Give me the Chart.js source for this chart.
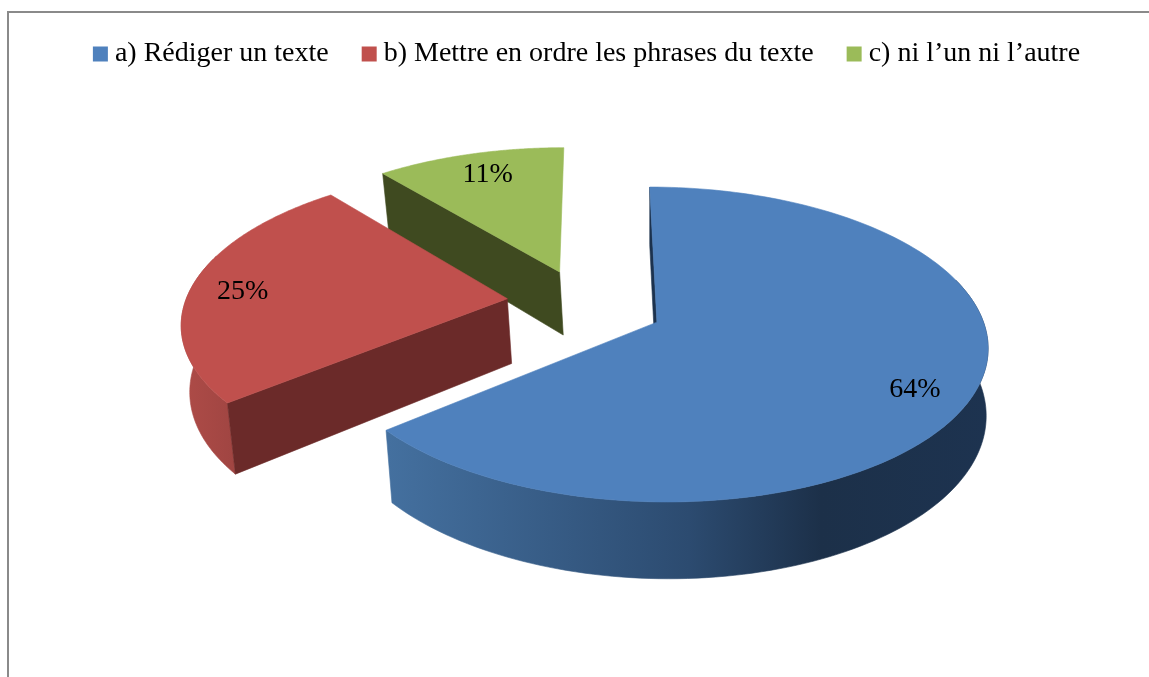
<!DOCTYPE html>
<html><head><meta charset="utf-8">
<style>html,body{margin:0;padding:0;background:#fff;overflow:hidden}canvas{display:block}</style>
<script src="https://cdn.jsdelivr.net/npm/chart.js@4/dist/chart.umd.min.js"></script>
</head><body><canvas id="c" width="1149" height="677"></canvas>
<script>
const categories = ["a) Rédiger un texte", "b) Mettre en ordre les phrases du texte", "c) ni l’un ni l’autre"];
const values = [64, 25, 11];
const topColors = ["#4f81bd", "#c0504d", "#9bbb59"];
const edgeColors = ["#1c324e", "#6b2a29", "#3f4a20"];
const FONT = '"Liberation Serif", serif';

// 3D view used to project the library's arc elements
const view = {vx:595, vy:307, cx:-11, R:322, Ry:150, p:0.14, depth:65, baseX:840, baseShrink:0.987};
const sliceLift = [0, -5, -3];
const sliceShift = [4, -2, 0];
const wallShrink = [false, true, true];
const labelRadius = [0.82, 0.84, 0.78];
const labelDrop = [11, 5, -3];
const drawOrder = [2, 1, 0];

function project(i, el, r, a, z, noShrink){
  const mid = (el.startAngle + el.endAngle) / 2;
  const d = el.options.offset / el.outerRadius;
  const u = d * Math.cos(mid) + r * Math.cos(a);
  const v = d * Math.sin(mid) + r * Math.sin(a);
  const s = 1 / (1 - view.p * v);
  let x = view.vx + sliceShift[i] + (view.cx + view.R * u) * s;
  let y = view.vy + sliceLift[i] + view.Ry * v * s;
  if (z) {
    if (!noShrink) x = view.baseX + (x - view.baseX) * view.baseShrink;
    y += view.depth * s;
  }
  return [x, y];
}
function poly(ctx, pts, fill){
  ctx.beginPath();
  pts.forEach((p, k) => k ? ctx.lineTo(p[0], p[1]) : ctx.moveTo(p[0], p[1]));
  ctx.closePath();
  ctx.fillStyle = fill; ctx.fill();
  ctx.strokeStyle = fill; ctx.lineWidth = 0.6; ctx.stroke();
}
function arcPts(i, el, z, from, to, frontOnly){
  const n = 160, out = [];
  for (let k = 0; k <= n; k++) {
    const a = from + (to - from) * k / n;
    if (frontOnly && Math.sin(a) < -0.3) continue;
    out.push(project(i, el, 1, a, z));
  }
  return out;
}
function rimFill(ctx, i){
  if (i === 0) {
    const g = ctx.createLinearGradient(388, 0, 990, 0);
    g.addColorStop(0, "#44709f"); g.addColorStop(0.5, "#2c4b70");
    g.addColorStop(0.72, "#1c3049"); g.addColorStop(1, "#1d3350");
    return g;
  }
  const g = ctx.createLinearGradient(186, 0, 235, 0);
  g.addColorStop(0, "#ad4b47"); g.addColorStop(1, "#a04542");
  return g;
}
const pie3d = {
  id: "pie3d",
  beforeDraw(chart){
    const ctx = chart.ctx;
    ctx.save();
    ctx.fillStyle = "#fff"; ctx.fillRect(0, 0, chart.width, chart.height);
    ctx.fillStyle = "#8a8a8a";
    ctx.fillRect(7, 11, chart.width - 7, 2);
    ctx.fillRect(7, 11, 2, chart.height - 11);
    ctx.restore();
  },
  beforeDatasetDraw(chart){
    const ctx = chart.ctx, arcs = chart.getDatasetMeta(0).data;
    const total = values.reduce((a, b) => a + b, 0);
    ctx.save();
    drawOrder.forEach(i => {
      const el = arcs[i], a0 = el.startAngle, a1 = el.endAngle;
      const plain = !wallShrink[i];
      const apexT = project(i, el, 0, a0, false), apexB = project(i, el, 0, a0, true, plain);
      const s0T = project(i, el, 1, a0, false), s0B = project(i, el, 1, a0, true, plain);
      const rimTop = arcPts(i, el, false, a0, a1, true), rimBot = arcPts(i, el, true, a0, a1, true);
      if (rimTop.length) poly(ctx, rimTop.concat(rimBot.slice().reverse()), rimFill(ctx, i));
      poly(ctx, [apexT, s0T, s0B, apexB], edgeColors[i]);
      poly(ctx, [apexT].concat(arcPts(i, el, false, a0, a1, false)), topColors[i]);
    });
    ctx.fillStyle = "#000";
    ctx.font = "28px " + FONT;
    ctx.textAlign = "center"; ctx.textBaseline = "middle";
    arcs.forEach((el, i) => {
      const p = project(i, el, labelRadius[i], (el.startAngle + el.endAngle) / 2, false);
      ctx.fillText(Math.round(values[i] / total * 100) + "%", p[0], p[1] + labelDrop[i]);
    });
    ctx.restore();
    return false;
  }
};
new Chart(document.getElementById("c"), {
  type: "pie",
  data: { labels: categories, datasets: [{ data: values, backgroundColor: topColors, borderWidth: 0, offset: 62.7 }] },
  options: {
    responsive: false, animation: false,
    layout: { padding: { top: 0, left: 31 } },
    plugins: {
      tooltip: { enabled: false },
      legend: { position: "top", labels: {
        font: { family: FONT, size: 28 }, color: "#000",
        usePointStyle: true, pointStyle: "rect", boxWidth: 1, boxHeight: 15, padding: 40
      } }
    }
  },
  plugins: [pie3d]
});
</script></body></html>
